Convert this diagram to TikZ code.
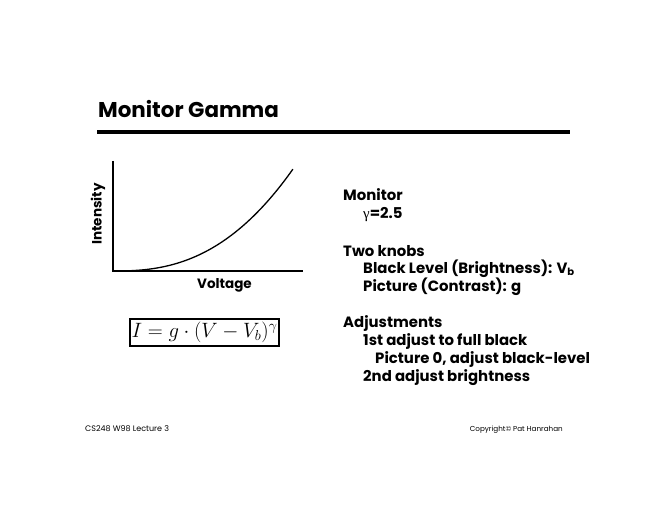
\documentclass[tikz,border=0pt]{standalone}
\usepackage{fontspec}
\setmainfont{Poppins}
\newfontfamily\symfont{Liberation Serif}
\begin{document}
\begin{tikzpicture}[x=1pt,y=-1pt,
  bodytext/.style={anchor=base west,inner sep=0pt,font=\fontsize{14.9}{17}\selectfont\bfseries},
  axislabel/.style={inner sep=0pt,font=\fontsize{13.5}{15}\selectfont\bfseries},
  foot/.style={inner sep=0pt,anchor=base west}]
\useasboundingbox[fill=white] (0,0) rectangle (660,510);
% title
\node[anchor=base west,inner sep=0pt,font=\fontsize{21.4}{26}\selectfont\bfseries] (title) at (98,118) {Monitor Gamma};
\coordinate (ruleL) at (97,132);
\coordinate (ruleR) at (570,132);
\draw[line width=4pt] (ruleL) -- (ruleR);
% graph
\coordinate (ytop) at (113,161);
\coordinate (orig) at (113,271);
\coordinate (xend) at (303,271);
\draw[line width=1.3pt] (ytop) -- (orig) -- (xend);
\draw[line width=1.3pt] plot[domain=0:1,samples=60] ({113+180*\x},{271-102*\x*\x*sqrt(\x)});
\node[axislabel,rotate=90] (ylab) at (98,214) {Intensity};
\node[axislabel] (xlab) at (224.5,285) {Voltage};
% formula
\node[draw,line width=2pt,inner xsep=1.5pt,inner ysep=3.5pt,font=\fontsize{19.5}{22}\selectfont] (formula) at (204.5,332.5) {$I=g\cdot(V-V_b)^\gamma$};
% right column
\node[bodytext] (l1) at (343,201) {Monitor};
\node[bodytext] (l2) at (363,219) {{\symfont\mdseries γ}=2.5};
\node[bodytext] (l3) at (343,256) {Two knobs};
\node[bodytext] (l4) at (363,273) {Black Level (Brightness): V\raisebox{-2pt}{\fontsize{10}{10}\selectfont b}};
\node[bodytext] (l5) at (363,291) {Picture (Contrast): g};
\node[bodytext] (l6) at (343,327) {Adjustments};
\node[bodytext] (l7) at (363,345) {1st adjust to full black};
\node[bodytext] (l8) at (375,363) {Picture 0, adjust black-level};
\node[bodytext] (l9) at (363,381) {2nd adjust brightness};
% footer
\node[foot,font=\fontsize{8}{9}\selectfont] (f1) at (85,431) {CS248 W98 Lecture 3};
\node[foot,anchor=base east,font=\fontsize{7.2}{8}\selectfont] (f2) at (563,431) {Copyright© Pat Hanrahan};
\end{tikzpicture}
\end{document}
